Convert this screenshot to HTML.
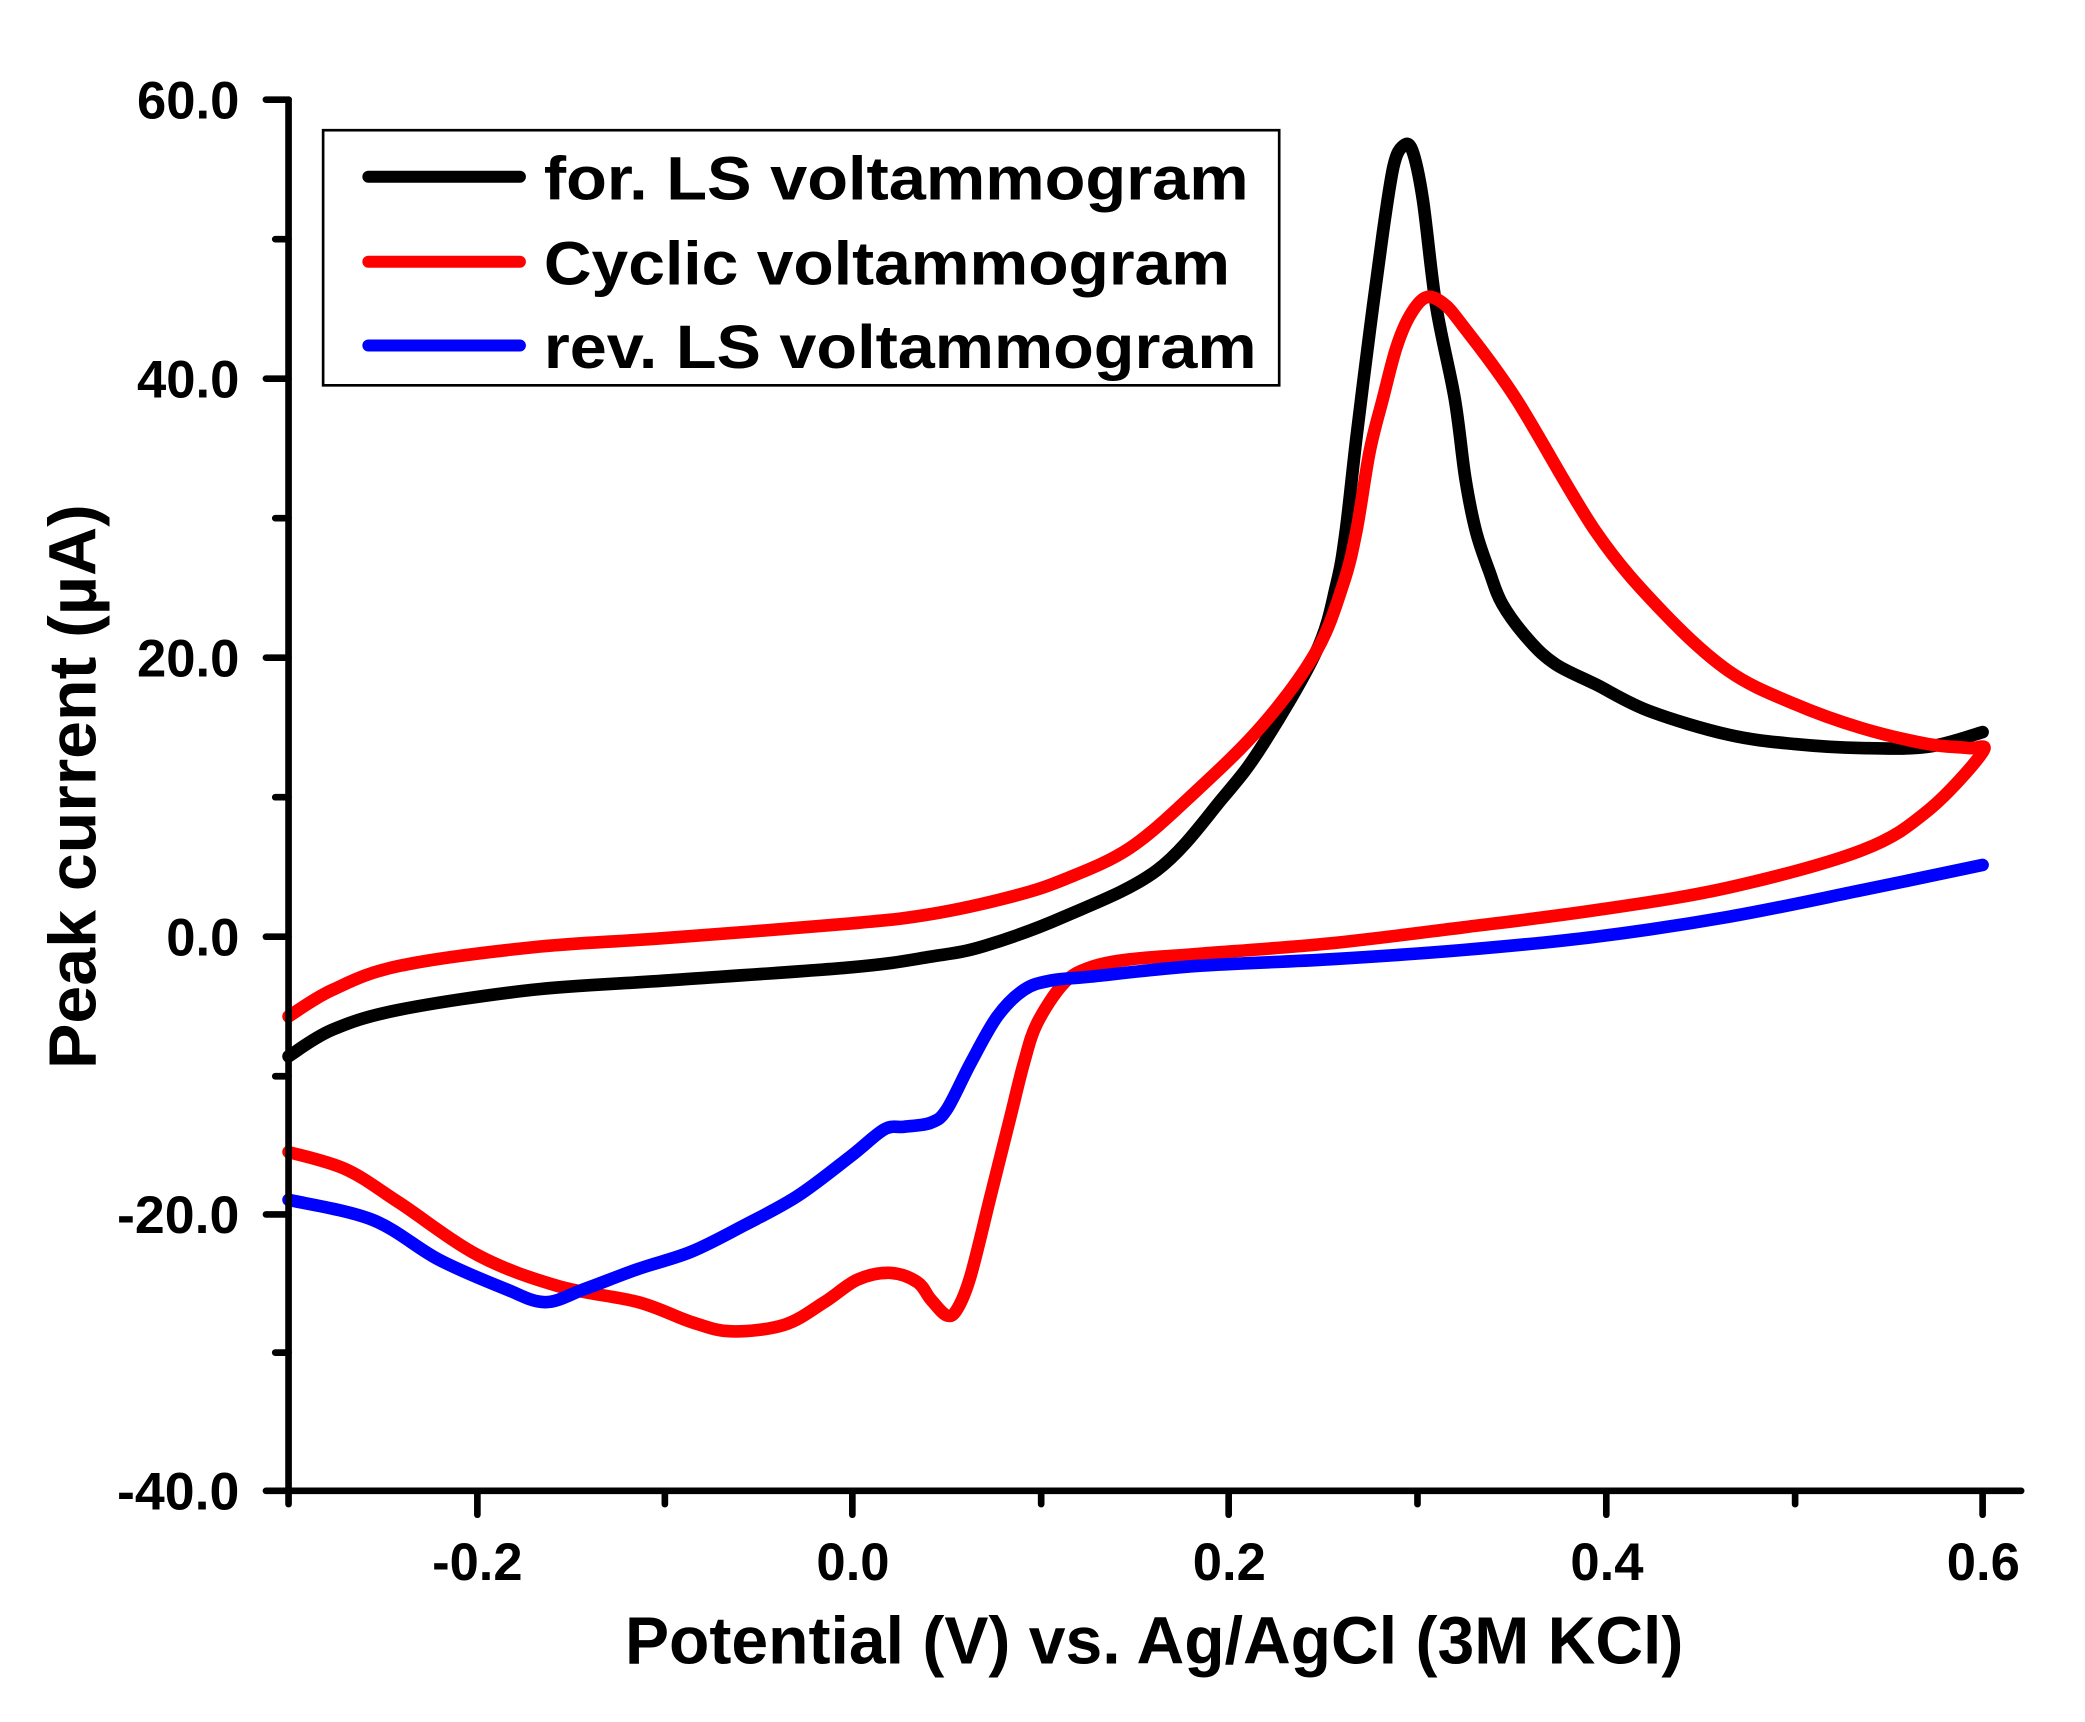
<!DOCTYPE html>
<html><head><meta charset="utf-8"><style>
html,body{margin:0;padding:0;background:#fff;}
svg{display:block;}
text{font-family:"Liberation Sans",Arial,sans-serif;font-weight:bold;fill:#000;}
</style></head><body>
<svg id="s" width="2085" height="1722" viewBox="0 0 1568 1296" preserveAspectRatio="none" xmlns="http://www.w3.org/2000/svg">
<rect width="1568" height="1296" fill="#fff"/>
<g id="curves" fill="none" stroke-linejoin="round" stroke-linecap="round" stroke-width="9.5">
<polyline stroke="#000" points="217,795 250,775 300,760 400,745 500,738 640,728 700,720 740,712 800,690 870,655 920,600 950,560 990,490 1005,440 1012,400 1020,330 1030,250 1040,175 1048,125 1055,110 1062,113 1070,150 1080,230 1094,300 1102,360 1110,400 1120,430 1130,455 1150,482 1170,500 1200,515 1240,535 1300,553 1350,560 1400,563 1450,562 1491,551"/>
<polyline stroke="#f00" points="217,765 250,745 300,727 400,713 500,706 640,695 700,688 760,675 800,662 850,638 900,595 950,545 990,490 1010,440 1020,400 1030,340 1040,300 1050,262 1060,238 1072,224 1085,228 1100,245 1140,300 1200,400 1250,460 1300,505 1350,530 1400,548 1450,560 1480,563 1491,566 1450,610 1400,640 1300,668 1200,685 1100,698 1000,710 900,718 850,722 820,728 800,740 780,770 770,800 760,840 745,900 730,960 720,985 712,990 700,978 690,965 670,958 645,963 620,980 590,997 550,1002 520,995 480,980 420,968 360,945 300,905 260,880 217,867"/>
<polyline stroke="#00f" points="1491,651 1400,670 1300,690 1200,705 1100,715 1000,722 900,727 820,735 790,738 770,745 750,765 730,800 712,835 700,845 680,848 665,850 640,870 600,900 560,922 520,942 480,955 440,970 410,980 380,970 330,948 280,918 217,903"/>
</g>
<g stroke="#000" stroke-width="5" stroke-linecap="round" fill="none">
<line x1="217" y1="75" x2="217" y2="1122"/>
<line x1="217" y1="1122" x2="1520" y2="1122"/>
<line x1="200" y1="75" x2="217" y2="75"/><line x1="200" y1="285" x2="217" y2="285"/><line x1="200" y1="495" x2="217" y2="495"/><line x1="200" y1="705" x2="217" y2="705"/><line x1="200" y1="914" x2="217" y2="914"/><line x1="200" y1="1122" x2="217" y2="1122"/>
<line x1="207" y1="180" x2="217" y2="180"/><line x1="207" y1="390" x2="217" y2="390"/><line x1="207" y1="600" x2="217" y2="600"/><line x1="207" y1="810" x2="217" y2="810"/><line x1="207" y1="1018" x2="217" y2="1018"/>
<line x1="217" y1="1122" x2="217" y2="1132"/><line x1="359" y1="1122" x2="359" y2="1140"/><line x1="500" y1="1122" x2="500" y2="1132"/><line x1="641" y1="1122" x2="641" y2="1140"/><line x1="783" y1="1122" x2="783" y2="1132"/><line x1="924" y1="1122" x2="924" y2="1140"/><line x1="1066" y1="1122" x2="1066" y2="1132"/><line x1="1208" y1="1122" x2="1208" y2="1140"/><line x1="1350" y1="1122" x2="1350" y2="1132"/><line x1="1491" y1="1122" x2="1491" y2="1140"/>
</g>
<g font-size="40" lengthAdjust="spacingAndGlyphs">
<text x="103" y="89" textLength="77" lengthAdjust="spacingAndGlyphs">60.0</text>
<text x="103" y="299" textLength="77" lengthAdjust="spacingAndGlyphs">40.0</text>
<text x="103" y="509" textLength="77" lengthAdjust="spacingAndGlyphs">20.0</text>
<text x="125" y="719" textLength="55" lengthAdjust="spacingAndGlyphs">0.0</text>
<text x="88" y="928" textLength="92" lengthAdjust="spacingAndGlyphs">-20.0</text>
<text x="88" y="1136" textLength="92" lengthAdjust="spacingAndGlyphs">-40.0</text>
</g>
<g font-size="40">
<text x="325" y="1189" textLength="68" lengthAdjust="spacingAndGlyphs">-0.2</text>
<text x="614" y="1189" textLength="55" lengthAdjust="spacingAndGlyphs">0.0</text>
<text x="897" y="1189" textLength="55" lengthAdjust="spacingAndGlyphs">0.2</text>
<text x="1181" y="1189" textLength="55" lengthAdjust="spacingAndGlyphs">0.4</text>
<text x="1464" y="1189" textLength="55" lengthAdjust="spacingAndGlyphs">0.6</text>
</g>
<text x="868" y="1252" font-size="50" text-anchor="middle" textLength="796" lengthAdjust="spacingAndGlyphs">Potential (V) vs. Ag/AgCl (3M KCl)</text>
<text transform="translate(72,592) rotate(-90)" font-size="50" text-anchor="middle" textLength="425" lengthAdjust="spacingAndGlyphs">Peak current (µA)</text>
<rect x="243" y="98" width="719" height="192" fill="#fff" stroke="#000" stroke-width="2"/>
<g stroke-width="9" stroke-linecap="round">
<line x1="277" y1="133" x2="391" y2="133" stroke="#000"/>
<line x1="277" y1="197" x2="391" y2="197" stroke="#f00"/>
<line x1="277" y1="260" x2="391" y2="260" stroke="#00f"/>
</g>
<g font-size="46">
<text x="409" y="150" textLength="530" lengthAdjust="spacingAndGlyphs">for. LS voltammogram</text>
<text x="409" y="214" textLength="516" lengthAdjust="spacingAndGlyphs">Cyclic voltammogram</text>
<text x="409" y="277" textLength="536" lengthAdjust="spacingAndGlyphs">rev. LS voltammogram</text>
</g>
</svg>
<script>
(function(){
var g=document.getElementById('curves');
var pls=g.querySelectorAll('polyline');
for(var k=0;k<pls.length;k++){
 var pl=pls[k];
 var nums=pl.getAttribute('points').trim().split(/[\s,]+/).map(Number);
 var p=[];for(var i=0;i<nums.length;i+=2)p.push([nums[i],nums[i+1]]);
 var d='M'+p[0][0]+','+p[0][1];
 for(var i=0;i<p.length-1;i++){
  var p0=p[i-1]||p[i],p1=p[i],p2=p[i+1],p3=p[i+2]||p2;
  var t=0.5/3;
  var c1x=p1[0]+(p2[0]-p0[0])*t,c1y=p1[1]+(p2[1]-p0[1])*t;
  var c2x=p2[0]-(p3[0]-p1[0])*t,c2y=p2[1]-(p3[1]-p1[1])*t;
  d+=' C'+c1x+','+c1y+' '+c2x+','+c2y+' '+p2[0]+','+p2[1];
 }
 var path=document.createElementNS('http://www.w3.org/2000/svg','path');
 path.setAttribute('d',d);path.setAttribute('stroke',pl.getAttribute('stroke'));
 g.replaceChild(path,pl);
}
})();
</script>
</body></html>
